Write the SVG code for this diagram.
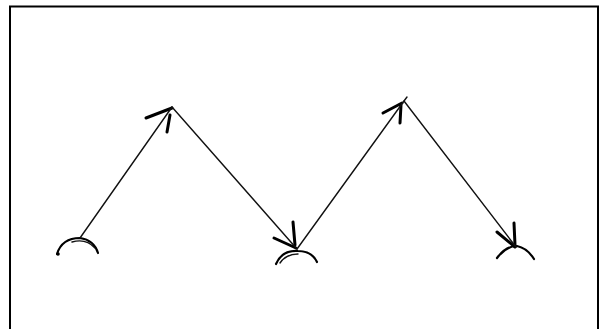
<svg xmlns="http://www.w3.org/2000/svg" width="603" height="329" viewBox="0 0 603 329">
<style>
.frame{fill:none;stroke:#000;stroke-width:2}
.ln{fill:none;stroke:#111;stroke-width:1.4;stroke-linecap:round}
.head{fill:none;stroke:#000;stroke-width:3;stroke-linecap:round;stroke-linejoin:round}
.arc{fill:none;stroke:#000;stroke-width:2.2;stroke-linecap:round}
</style>
<rect width="603" height="329" fill="#fff"/>
<path class="frame" d="M10,335 V6.5 H598 V335"/>
<g id="node-start">
<path class="arc" d="M57,254 Q62,238 80,238 Q94,240 98,253"/>
<path class="ln" d="M72,242 Q86,238 95,248"/>
<circle cx="58" cy="254" r="1.8" fill="#000"/>
</g>
<g id="node-peak1">
<path class="head" d="M146,118 L172,108 M167,132 L170,115"/>
</g>
<g id="node-valley1">
<path class="head" d="M274,238 L296,248 M293,222 L295,245"/>
<path class="arc" d="M276,264 Q282,250 298,251 Q312,251 317,262"/>
<path class="ln" d="M280,263 Q286,254 298,254"/>
</g>
<g id="node-peak2">
<path class="head" d="M383,113 L402,103 M400,123 L401,105"/>
</g>
<g id="node-end">
<path class="head" d="M497,232 L515,247 M514,223 L515,245"/>
<path class="arc" d="M497,258 Q506,246 517,246 Q527,248 534,259"/>
</g>
<g id="connectors">
<path class="ln" d="M80,238 L172,107"/>
<path class="ln" d="M172,107 L297,249"/>
<path class="ln" d="M297,249 L404,101 L407,97"/>
<path class="ln" d="M404,101 L516,247"/>
</g>
</svg>
